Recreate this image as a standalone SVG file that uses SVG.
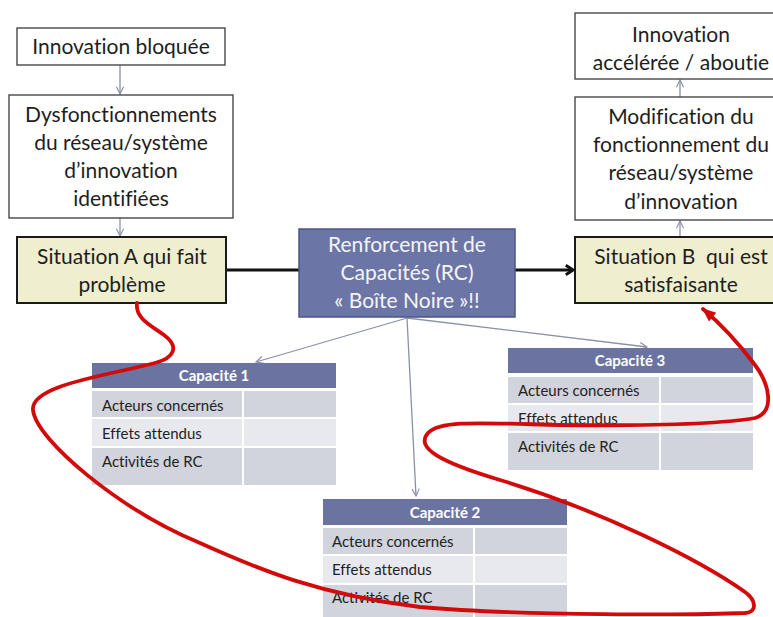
<svg xmlns="http://www.w3.org/2000/svg" width="773" height="617" viewBox="0 0 773 617">
  <style>
    text { font-variant-ligatures: none; }
    .box { fill: #ffffff; stroke: #3a3a3a; stroke-width: 1.3; }
    .sit { fill: #efeecf; stroke: #1a1a1a; stroke-width: 2; }
    .rc { fill: #6c76a6; stroke: #4b5588; stroke-width: 1.5; }
    .t { font-family: Lato, "Liberation Sans", sans-serif; font-size: 21px; fill: #1e1e1e; text-anchor: middle; }
    .tw { font-family: Lato, "Liberation Sans", sans-serif; font-size: 21px; fill: #f4f4f8; text-anchor: middle; }
    .hd { fill: #6b74a0; }
    .r1 { fill: #d1d4dd; }
    .r2 { fill: #e8e9ee; }
    .ht { font-family: Lato, "Liberation Sans", sans-serif; font-size: 15px; font-weight: bold; fill: #ffffff; text-anchor: middle; }
    .ct { font-family: Lato, "Liberation Sans", sans-serif; font-size: 15px; fill: #222222; }
    .gray { stroke: #8c90a8; stroke-width: 1.3; fill: none; }
    .black { stroke: #111111; stroke-width: 3; fill: none; }
    .red { stroke: #d20a0a; stroke-width: 3.8; fill: none; stroke-linecap: round; }
  </style>
  <defs>
    <marker id="vhead" viewBox="0 0 10 10" refX="9" refY="5" markerWidth="9" markerHeight="9" markerUnits="userSpaceOnUse" orient="auto">
      <path d="M1,1 L9,5 L1,9" fill="none" stroke="#8c90a8" stroke-width="1.3"/>
    </marker>
    <marker id="bhead" viewBox="0 0 10 10" refX="8" refY="5" markerWidth="12" markerHeight="12" markerUnits="userSpaceOnUse" orient="auto">
      <path d="M2,1 L8,5 L2,9" fill="none" stroke="#111111" stroke-width="2.4"/>
    </marker>
    <marker id="rhead" viewBox="0 0 10 10" refX="9" refY="5" markerWidth="14" markerHeight="14" markerUnits="userSpaceOnUse" orient="auto">
      <path d="M0,1 L10,5 L0,9 Z" fill="#d20a0a"/>
    </marker>
  </defs>

  <rect width="773" height="617" fill="#ffffff"/>

  <!-- connectors -->
  <g id="connectors">
    <line class="gray" x1="120" y1="65" x2="120" y2="94" marker-end="url(#vhead)"/>
    <line class="gray" x1="120" y1="218" x2="120" y2="236" marker-end="url(#vhead)"/>
    <line class="gray" x1="680" y1="236" x2="680" y2="221" marker-end="url(#vhead)"/>
    <line class="gray" x1="680" y1="97" x2="680" y2="80" marker-end="url(#vhead)"/>
    <line class="black" x1="226" y1="270" x2="299" y2="270"/>
    <line class="black" x1="515" y1="270" x2="573" y2="270" marker-end="url(#bhead)"/>
    <line class="gray" x1="407" y1="318" x2="256" y2="362" marker-end="url(#vhead)"/>
    <line class="gray" x1="407" y1="318" x2="416" y2="496" marker-end="url(#vhead)"/>
    <line class="gray" x1="407" y1="318" x2="647" y2="347" marker-end="url(#vhead)"/>
  </g>

  <!-- left column -->
  <g id="innovation-bloquee">
    <rect class="box" x="17" y="28" width="208" height="37"/>
    <text class="t" x="121" y="54">Innovation bloquée</text>
  </g>
  <g id="dysfonctionnements">
    <rect class="box" x="9" y="95" width="224" height="123"/>
    <text class="t" x="121" y="122">Dysfonctionnements</text>
    <text class="t" x="121" y="150">du réseau/système</text>
    <text class="t" x="121" y="178">d’innovation</text>
    <text class="t" x="121" y="206">identifiées</text>
  </g>
  <g id="situation-a">
    <rect class="sit" x="17" y="237" width="209" height="66"/>
    <text class="t" x="122" y="264">Situation A qui fait</text>
    <text class="t" x="122" y="292">problème</text>
  </g>

  <!-- centre -->
  <g id="renforcement">
    <rect class="rc" x="299" y="229" width="216" height="88"/>
    <text class="tw" x="407" y="252">Renforcement de</text>
    <text class="tw" x="407" y="280">Capacités (RC)</text>
    <text class="tw" x="407" y="308">« Boîte Noire »!!</text>
  </g>

  <!-- right column -->
  <g id="innovation-acceleree">
    <rect class="box" x="575" y="13" width="212" height="66"/>
    <text class="t" x="681" y="42">Innovation</text>
    <text class="t" x="681" y="70">accélérée / aboutie</text>
  </g>
  <g id="modification">
    <rect class="box" x="575" y="97" width="212" height="123"/>
    <text class="t" x="681" y="124">Modification du</text>
    <text class="t" x="681" y="152">fonctionnement du</text>
    <text class="t" x="681" y="180">réseau/système</text>
    <text class="t" x="681" y="209">d’innovation</text>
  </g>
  <g id="situation-b">
    <rect class="sit" x="575" y="237" width="212" height="66"/>
    <text class="t" x="681" y="264" xml:space="preserve">Situation B  qui est</text>
    <text class="t" x="681" y="292">satisfaisante</text>
  </g>

  <!-- capacity tables -->
  <g id="capacite-1">
    <rect class="hd" x="92" y="363" width="244" height="25"/>
    <text class="ht" x="214" y="381">Capacité 1</text>
    <rect class="r1" x="92" y="391" width="150" height="26"/>
    <rect class="r1" x="244" y="391" width="92" height="26"/>
    <rect class="r2" x="92" y="419" width="150" height="27"/>
    <rect class="r2" x="244" y="419" width="92" height="27"/>
    <rect class="r1" x="92" y="448" width="150" height="37"/>
    <rect class="r1" x="244" y="448" width="92" height="37"/>
    <text class="ct" x="102" y="411">Acteurs concernés</text>
    <text class="ct" x="102" y="439">Effets attendus</text>
    <text class="ct" x="102" y="467">Activités de RC</text>
  </g>

  <g id="capacite-2">
    <rect class="hd" x="323" y="499" width="244" height="26"/>
    <text class="ht" x="445" y="518">Capacité 2</text>
    <rect class="r1" x="323" y="528" width="150" height="26"/>
    <rect class="r1" x="475" y="528" width="92" height="26"/>
    <rect class="r2" x="323" y="556" width="150" height="27"/>
    <rect class="r2" x="475" y="556" width="92" height="27"/>
    <rect class="r1" x="323" y="585" width="150" height="32"/>
    <rect class="r1" x="475" y="585" width="92" height="32"/>
    <text class="ct" x="332" y="547">Acteurs concernés</text>
    <text class="ct" x="332" y="575">Effets attendus</text>
    <text class="ct" x="332" y="603">Activités de RC</text>
  </g>

  <g id="capacite-3">
    <rect class="hd" x="508" y="348" width="245" height="25"/>
    <text class="ht" x="630" y="366">Capacité 3</text>
    <rect class="r1" x="508" y="377" width="151" height="26"/>
    <rect class="r1" x="661" y="377" width="92" height="26"/>
    <rect class="r2" x="508" y="405" width="151" height="26"/>
    <rect class="r2" x="661" y="405" width="92" height="26"/>
    <rect class="r1" x="508" y="433" width="151" height="37"/>
    <rect class="r1" x="661" y="433" width="92" height="37"/>
    <text class="ct" x="518" y="396">Acteurs concernés</text>
    <text class="ct" x="518" y="424">Effets attendus</text>
    <text class="ct" x="518" y="452">Activités de RC</text>
  </g>

  <!-- red hand-drawn path from situation A to situation B -->
  <g id="red-path">
    <path class="red" marker-end="url(#rhead)" d="M137,303 C135,318 150,325 164,335 C180,347 174,358 155,363 C110,375 30,385 33,410 C36,440 120,510 200,543 C260,570 320,595 420,607 C520,616 700,615 745,613 C758,612 756,600 745,592 C700,560 600,510 500,480 C440,462 415,448 428,433 C440,420 480,423 560,425 C650,426 720,424 755,418 C775,412 770,385 755,365 C740,345 722,325 703,309"/>
  </g>
</svg>
